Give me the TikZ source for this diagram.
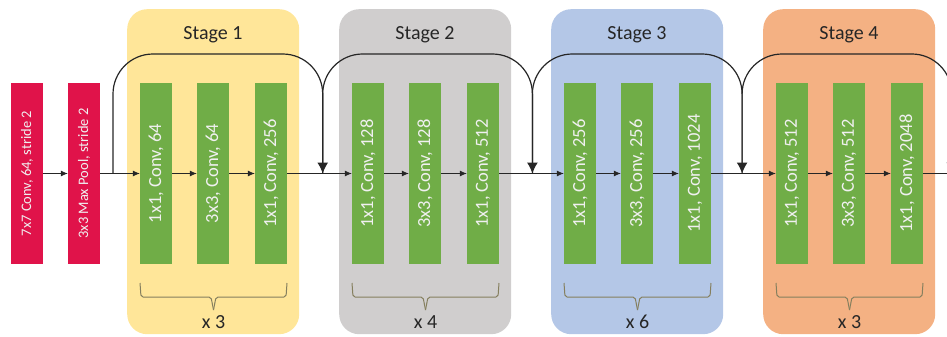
\documentclass[tikz,border=0pt]{standalone}
\usepackage{fontspec}
\setmainfont{Carlito}
\usetikzlibrary{arrows.meta,calc}
\definecolor{stageA}{HTML}{FFE699}
\definecolor{stageB}{HTML}{D0CECE}
\definecolor{stageC}{HTML}{B4C7E7}
\definecolor{stageD}{HTML}{F4B183}
\definecolor{convgreen}{HTML}{70AD47}
\definecolor{stemred}{HTML}{E0134A}
\definecolor{bracecol}{HTML}{857F5E}
\definecolor{titlecol}{HTML}{262626}
\tikzset{
  stagebox/.style={rounded corners=20pt, minimum width=172pt, minimum height=325pt, inner sep=0pt, anchor=north west},
  convbox/.style={fill=convgreen, text=white!94!black, rotate=90, minimum width=181pt, minimum height=32pt, inner sep=0pt, font=\fontsize{18.5}{21}\selectfont},
  stembox/.style={fill=stemred, text=white!94!black, rotate=90, minimum width=181pt, minimum height=32pt, inner sep=0pt, font=\fontsize{14.5}{17}\selectfont},
  stagetitle/.style={text=titlecol, font=\fontsize{20}{23}\selectfont},
  reptext/.style={text=titlecol, font=\fontsize{20}{23}\selectfont},
  flow/.style={draw=black!85, line width=0.8pt, -{Latex[length=7pt,width=6pt]}},
  skip/.style={draw=black!85, line width=1.2pt, rounded corners=40pt, -{Latex[length=11pt,width=11pt]}},
  bracket/.style={draw=bracecol, line width=1pt, rounded corners=2pt},
}
\begin{document}
\begin{tikzpicture}[x=1pt,y=-1pt]
\useasboundingbox (0,0) rectangle (947,337);
\clip (0,0) rectangle (947,337);

% stem
\node[stembox] (stemA) at (27,173.5) {7x7 Conv, 64, stride 2};
\node[stembox] (stemB) at (84,173.5) {3x3 Max Pool, stride 2};
\draw[flow] (stemA.south) -- (stemB.north);

% stages: background panel, three conv layers, bracket, repeat count
\foreach \k/\col/\ca/\cb/\cc/\rep in {
  1/stageA/{1x1, Conv, 64}/{3x3, Conv, 64}/{1x1, Conv, 256}/3,
  2/stageB/{1x1, Conv, 128}/{3x3, Conv, 128}/{1x1, Conv, 512}/4,
  3/stageC/{1x1, Conv, 256}/{3x3, Conv, 256}/{1x1, Conv, 1024}/6,
  4/stageD/{1x1, Conv, 512}/{3x3, Conv, 512}/{1x1, Conv, 2048}/3}{
  \pgfmathsetmacro{\ox}{127+212*(\k-1)}
  \node[stagebox, fill=\col] (panel\k) at (\ox,9) {};
  \node[stagetitle] (title\k) at (\ox+86,35) {Stage \k};
  \node[convbox] (c\k a) at (\ox+29,173.5) {\ca};
  \node[convbox] (c\k b) at (\ox+86,173.5) {\cb};
  \node[convbox] (c\k c) at (\ox+144,173.5) {\cc};
  \draw[flow] (c\k a.south) -- (c\k b.north);
  \draw[flow] (c\k b.south) -- (c\k c.north);
  \coordinate (bl\k) at (\ox+13,283);
  \coordinate (br\k) at (\ox+160,283);
  \coordinate (bm\k) at (\ox+86.5,310);
  \draw[bracket] (bl\k) -- ++(1,14) -- ($(bm\k)+(-2.5,-13)$) -- (bm\k);
  \draw[bracket] (br\k) -- ++(-1,14) -- ($(bm\k)+(2.5,-13)$) -- (bm\k);
  \node[reptext] (rep\k) at (\ox+86.5,322) {x \rep};
}

% junction points of the shortcut connections on the main line
\foreach \j in {0,...,4}{
  \pgfmathsetmacro{\jx}{113+209.7*\j}
  \coordinate (j\j) at (\jx,173.5);
  \coordinate (t\j) at (\jx,54);
}
\coordinate (exit) at (955,173.5);

% main line between stages
\draw[flow] (stemB.south) -- (c1a.north);
\draw[flow] (c1c.south) -- (c2a.north);
\draw[flow] (c2c.south) -- (c3a.north);
\draw[flow] (c3c.south) -- (c4a.north);
\draw[flow] (c4c.south) -- (exit);

% shortcut connections
\draw[skip] (j0) -- (t0) -- (t1) -- (j1);
\draw[skip] (j1) -- (t1) -- (t2) -- (j2);
\draw[skip] (j2) -- (t2) -- (t3) -- (j3);
\draw[skip] (j3) -- (t3) -- (t4) -- (j4);
\end{tikzpicture}
\end{document}
